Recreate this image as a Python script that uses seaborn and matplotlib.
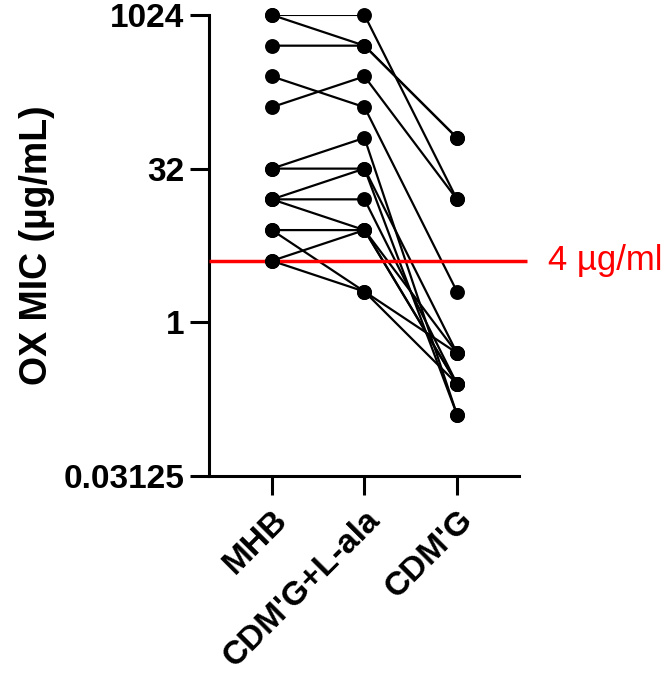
import pandas as pd
import seaborn as sns
import matplotlib.pyplot as plt

# --- Daten (MIC je Stamm unter drei Bedingungen) ---
conditions = ["MHB", "CDM'G+L-ala", "CDM'G"]
mic_mhb = [1024, 1024, 512, 256, 128, 32, 32, 16, 16, 16, 8, 4, 8, 4]
mic_lala = [1024, 512, 512, 128, 256, 64, 32, 32, 16, 8, 8, 8, 2, 2]
mic_cdmg = [16, 64, 64, 2, 16, 0.125, 0.5, 0.125, 0.25, 0.5, 0.25, 0.25, 0.5, 0.25]
y_ticks = [0.03125, 1, 32, 1024]
y_ticklabels = ["0.03125", "1", "32", "1024"]
breakpoint_mic = 4

rows = []
for i, vals in enumerate(zip(mic_mhb, mic_lala, mic_cdmg)):
    for pos, v in enumerate(vals):
        rows.append({"strain": i, "pos": pos, "mic": v})
df = pd.DataFrame(rows)

sns.set_style("ticks")
plt.rcParams['font.family'] = ['Liberation Sans', 'DejaVu Sans']
plt.rcParams.update({"text.color": "black", "axes.labelcolor": "black",
                     "xtick.color": "black", "ytick.color": "black",
                     "axes.edgecolor": "black"})

fig = plt.figure(figsize=(6.68, 6.79), dpi=100)
ax = fig.add_axes([0.3129, 0.299, 0.464, 0.679])

sns.lineplot(data=df, x="pos", y="mic", units="strain", estimator=None,
             color="black", linewidth=1.6, ax=ax, legend=False)
sns.scatterplot(data=df, x="pos", y="mic", color="black", s=115,
                edgecolor="black", linewidth=0, ax=ax, legend=False, zorder=5,
                clip_on=False)

ax.set_yscale("log", base=2)
ax.set_ylim(0.03125, 1024)
ax.set_xlim(-0.68, 2.67)
ax.set_yticks(y_ticks)
ax.set_yticklabels(y_ticklabels)
ax.minorticks_off()
ax.set_xticks(range(len(conditions)))
ax.set_xticklabels(conditions, rotation=45, ha="right", rotation_mode="anchor")

# Grenzwert-Linie
ax.hlines(breakpoint_mic, -0.68, 2.76, color="red", linewidth=2.5, clip_on=False, zorder=3)
ax.text(2.98, breakpoint_mic, "4 µg/ml", color="red", fontsize=25, va="center", ha="left")

for side in ["top", "right"]:
    ax.spines[side].set_visible(False)
for side in ["left", "bottom"]:
    ax.spines[side].set_linewidth(2.2)
ax.tick_params(axis="both", width=2.2, length=14, labelsize=24)
ax.tick_params(axis="y", pad=4)
ax.tick_params(axis="x", pad=6)
for lbl in ax.get_xticklabels() + ax.get_yticklabels():
    lbl.set_fontweight("bold")

ax.set_xlabel("")
ax.set_ylabel("OX MIC (µg/mL)", fontsize=27, fontweight="bold", labelpad=6)

fig.savefig("out.png", dpi=100)
